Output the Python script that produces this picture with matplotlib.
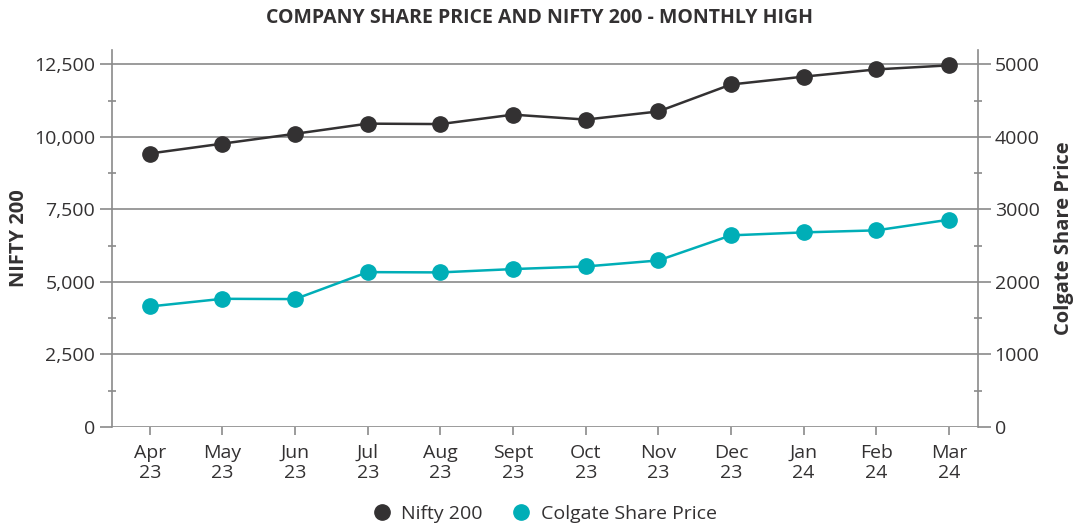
import matplotlib
matplotlib.use("Agg")
import matplotlib.pyplot as plt
from matplotlib.ticker import FuncFormatter, MultipleLocator
from matplotlib.lines import Line2D

plt.rcParams['font.family'] = ['Open Sans', 'DejaVu Sans']

months = ["Apr\n23", "May\n23", "Jun\n23", "Jul\n23", "Aug\n23", "Sept\n23",
          "Oct\n23", "Nov\n23", "Dec\n23", "Jan\n24", "Feb\n24", "Mar\n24"]
nifty200 = [9430, 9770, 10110, 10460, 10445, 10770, 10600, 10880, 11810, 12080, 12330, 12470]
colgate = [1662, 1768, 1764, 2136, 2132, 2178, 2214, 2297, 2643, 2684, 2712, 2859]

DARK = "#333132"
TEAL = "#00AEB7"
GRID = "#8a8a8a"
TXT = "#333132"

fig = plt.figure(figsize=(10.79, 5.25), dpi=100)
ax = fig.add_axes([0.1038, 0.1867, 0.8026, 0.7181])
ax2 = ax.twinx()

x = list(range(len(months)))
ax.plot(x, nifty200, color=DARK, lw=1.8, marker='o', ms=11, zorder=3)
ax2.plot(x, colgate, color=TEAL, lw=1.8, marker='o', ms=11, zorder=3)

ax.set_xlim(-0.52, 11.4)
ax.set_ylim(0, 13000)
ax2.set_ylim(0, 13000 / 2.5)

ax.yaxis.set_major_locator(MultipleLocator(2500))
ax.yaxis.set_minor_locator(MultipleLocator(1250))
ax2.yaxis.set_major_locator(MultipleLocator(1000))
ax2.yaxis.set_minor_locator(MultipleLocator(500))
ax.yaxis.set_major_formatter(FuncFormatter(lambda v, p: f"{int(v):,}"))
ax2.yaxis.set_major_formatter(FuncFormatter(lambda v, p: f"{int(v)}"))

ax.set_xticks(x)
ax.set_xticklabels(months, fontsize=14, color=TXT, linespacing=1.2)

for a in (ax, ax2):
    for s in a.spines.values():
        s.set_visible(False)

ax.spines['left'].set_visible(True)
ax.spines['left'].set_color(GRID)
ax.spines['left'].set_linewidth(1.2)
ax2.spines['right'].set_visible(True)
ax2.spines['right'].set_color(GRID)
ax2.spines['right'].set_linewidth(1.2)

ax.grid(axis='y', which='major', color=GRID, lw=1.2, zorder=0)
ax.set_axisbelow(True)

ax.tick_params(axis='y', which='major', length=9, width=1.2, color=GRID,
               labelsize=14, labelcolor=TXT, pad=3)
ax.tick_params(axis='y', which='minor', length=6, width=1.2, color=GRID, direction='inout')
ax2.tick_params(axis='y', which='major', length=9, width=1.2, color=GRID,
                labelsize=14, labelcolor=TXT, pad=3)
ax2.tick_params(axis='y', which='minor', length=6, width=1.2, color=GRID, direction='inout')
ax.tick_params(axis='x', length=6, width=1.2, color=GRID, pad=6)

ax.set_ylabel("NIFTY 200", fontsize=14.5, fontweight='bold', color=TXT, labelpad=4)
ax2.set_ylabel("Colgate Share Price", fontsize=14.5, fontweight='bold', color=TXT,
               labelpad=10, rotation=90)

fig.suptitle("COMPANY SHARE PRICE AND NIFTY 200 - MONTHLY HIGH", fontsize=14,
             fontweight='bold', color=TXT, y=0.985)

handles = [Line2D([], [], color=DARK, marker='o', ls='none', ms=11),
           Line2D([], [], color=TEAL, marker='o', ls='none', ms=11)]
fig.legend(handles, ["Nifty 200", "Colgate Share Price"], loc='lower center',
           bbox_to_anchor=(0.5, -0.03), ncol=2, frameon=False, fontsize=14,
           handletextpad=0.0, columnspacing=1.0, labelcolor=TXT)

fig.savefig("out.png", dpi=100)
